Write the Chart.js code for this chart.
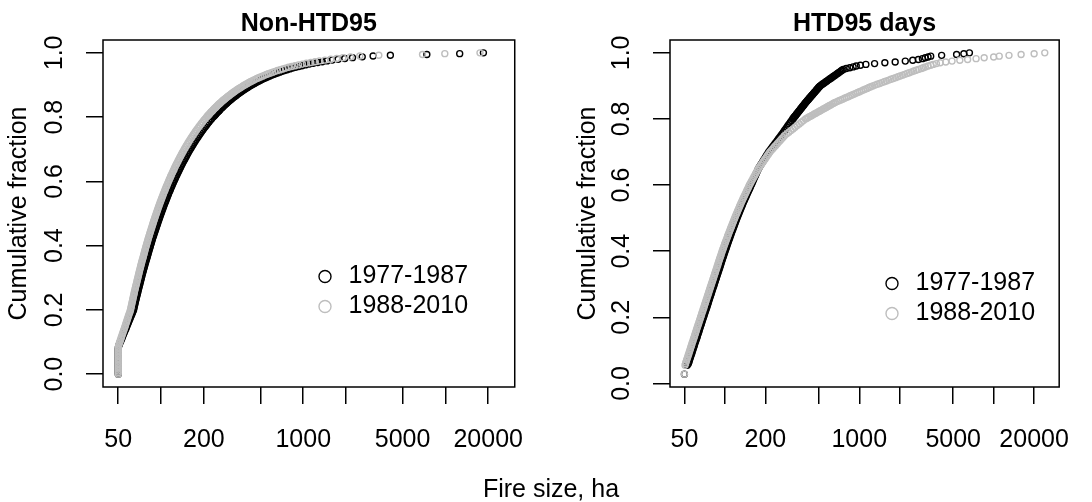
<!DOCTYPE html>
<html>
<head>
<meta charset="utf-8">
<script src="https://cdn.jsdelivr.net/npm/chart.js@4/dist/chart.umd.min.js"></script>
<style>
  html, body { margin: 0; padding: 0; background: #ffffff; }
  body { width: 1092px; height: 502px; position: relative; overflow: hidden; }
  .panel { position: absolute; top: 0; width: 546px; height: 502px; }
  #xTitle { position: absolute; top: 473px; left: 551px; transform: translateX(-50%);
            font: 25px/30px 'Liberation Sans', Arial, sans-serif; color: #000; white-space: nowrap; }
</style>
</head>
<body>
<div class="panel" style="left:0"><canvas id="leftChart" width="546" height="502"></canvas></div>
<div class="panel" style="left:546px"><canvas id="rightChart" width="546" height="502"></canvas></div>
<div id="xTitle">Fire size, ha</div>
<script>
// ---------------- data ----------------
const panelTitles = ['Non-HTD95', 'HTD95 days'];
const seriesNames = ['1977-1987', '1988-2010'];
const xAxisTitle = 'Fire size, ha';
const yAxisTitle = 'Cumulative fraction';
const xTickValues = [50, 100, 200, 500, 1000, 2000, 5000, 10000, 20000];
const xTickLabels = ['50', '', '200', '', '1000', '', '5000', '', '20000'];
const yTickValues = [0, 0.2, 0.4, 0.6, 0.8, 1.0];
const yTickLabels = ['0.0', '0.2', '0.4', '0.6', '0.8', '1.0'];

// ----- Non-HTD95 panel: cumulative fraction (y) and fire size in ha (x) -----
const leftFractions = [
  0, 0.005, 0.01, 0.015, 0.02, 0.025, 0.03, 0.035, 0.04, 0.045, 0.05, 0.055, 0.06, 0.065, 0.07, 0.075, 0.08, 0.085, 0.09, 0.095,
  0.10, 0.105, 0.11, 0.115, 0.12, 0.125, 0.13, 0.135, 0.14, 0.145, 0.15, 0.155, 0.16, 0.165, 0.17, 0.175, 0.18, 0.185, 0.19, 0.195,
  0.20, 0.205, 0.21, 0.215, 0.22, 0.225, 0.23, 0.235, 0.24, 0.245, 0.25, 0.255, 0.26, 0.265, 0.27, 0.275, 0.28, 0.285, 0.29, 0.295,
  0.30, 0.305, 0.31, 0.315, 0.32, 0.325, 0.33, 0.335, 0.34, 0.345, 0.35, 0.355, 0.36, 0.365, 0.37, 0.375, 0.38, 0.385, 0.39, 0.395,
  0.40, 0.405, 0.41, 0.415, 0.42, 0.425, 0.43, 0.435, 0.44, 0.445, 0.45, 0.455, 0.46, 0.465, 0.47, 0.475, 0.48, 0.485, 0.49, 0.495,
  0.50, 0.505, 0.51, 0.515, 0.52, 0.525, 0.53, 0.535, 0.54, 0.545, 0.55, 0.555, 0.56, 0.565, 0.57, 0.575, 0.58, 0.585, 0.59, 0.595,
  0.60, 0.605, 0.61, 0.615, 0.62, 0.625, 0.63, 0.635, 0.64, 0.645, 0.65, 0.655, 0.66, 0.665, 0.67, 0.675, 0.68, 0.685, 0.69, 0.695,
  0.70, 0.705, 0.71, 0.715, 0.72, 0.725, 0.73, 0.735, 0.74, 0.745, 0.75, 0.755, 0.76, 0.765, 0.77, 0.775, 0.78, 0.785, 0.79, 0.795,
  0.80,
  0.8025, 0.805, 0.8075, 0.81, 0.8125, 0.815, 0.8175, 0.82, 0.8225, 0.825, 0.8275, 0.83, 0.8325, 0.835, 0.8375, 0.84, 0.8425, 0.845, 0.8475, 0.85,
  0.8525, 0.855, 0.8575, 0.86, 0.8625, 0.865, 0.8675, 0.87, 0.8725, 0.875, 0.8775, 0.88, 0.8825, 0.885, 0.8875, 0.89, 0.8925, 0.895, 0.8975, 0.90,
  0.9025, 0.905, 0.9075, 0.91, 0.9125, 0.915, 0.9175, 0.92, 0.9225, 0.925, 0.9275, 0.93, 0.9325, 0.935, 0.9375, 0.94, 0.9425, 0.945, 0.9475, 0.95,
  0.9525, 0.955, 0.9575, 0.96, 0.9625, 0.965, 0.9675, 0.97, 0.9725, 0.975, 0.9775, 0.98, 0.9825, 0.985, 0.9875, 0.99, 0.9925, 0.995, 0.9975, 1.0
];
const nonHtdEarlySizes = [
  50, 50, 50, 50, 50, 50, 50, 50, 50, 50, 50, 50, 50, 50, 50, 50, 50, 50.2, 50.6, 51.1,
  51.7, 52.3, 52.9, 53.4, 54.0, 54.5, 55.1, 55.7, 56.4, 57.0, 57.6, 58.2, 58.8, 59.4, 60.1, 60.7, 61.4, 62.1, 62.8, 63.4,
  64.1, 64.4, 64.8, 65.2, 65.6, 66.0, 66.4, 66.8, 67.2, 67.7, 68.2, 68.6, 69.0, 69.4, 69.9, 70.4, 70.9, 71.3, 71.8, 72.3,
  72.8, 73.2, 73.7, 74.2, 74.8, 75.3, 75.9, 76.4, 76.9, 77.5, 78.1, 78.7, 79.3, 79.9, 80.5, 81.1, 81.7, 82.3, 83.0, 83.6,
  84.2, 84.9, 85.6, 86.2, 86.9, 87.6, 88.4, 89.1, 89.9, 90.7, 91.5, 92.3, 93.1, 93.9, 94.7, 95.5, 96.4, 97.3, 98.2, 99.1,
  100.0, 100.9, 101.9, 102.9, 103.9, 104.9, 105.9, 107.0, 108.1, 109.2, 110.3, 111.4, 112.6, 113.8, 115.1, 116.3, 117.6, 118.9, 120.3, 121.7,
  123.1, 124.5, 126.0, 127.5, 129.1, 130.7, 132.3, 134.0, 135.7, 137.4, 139.2, 141.1, 143.0, 145.0, 147.0, 149.1, 151.2, 153.4, 155.6, 158.0,
  160.4, 162.9, 165.5, 168.2, 170.9, 173.7, 176.6, 179.7, 182.8, 186.1, 189.5, 193.0, 196.6, 200.5, 204.5, 208.6, 212.8, 217.3, 222.0, 227.0,
  232.1,
  235, 238, 240.5, 243, 246, 249, 252.5, 256, 258.5, 261, 265, 269, 272.5, 276, 280, 284, 288, 292, 296.5, 301,
  305.5, 310, 315, 320, 326, 332, 337.5, 343, 349, 355, 361.5, 368, 375.5, 383, 390.5, 398, 406.5, 415, 424, 433,
  443.5, 454, 465, 476, 488.5, 501, 515, 529, 544.5, 560, 578, 596, 616, 636, 659.5, 683, 710.5, 738, 770.5, 803,
  841, 883, 929, 980, 1037, 1103, 1178, 1264, 1360, 1470, 1600, 1760, 1960, 2220, 2600, 3100, 4100, 7400, 12600, 18500
];
const nonHtdLateSizes = [
  50, 50, 50, 50, 50, 50, 50, 50, 50, 50, 50, 50, 50, 50, 50, 50, 50, 50.1, 50.4, 50.8,
  51.3, 51.7, 52.2, 52.6, 53.1, 53.5, 54.0, 54.5, 55.0, 55.5, 56.0, 56.4, 56.9, 57.4, 57.9, 58.4, 58.9, 59.4, 60.0, 60.5,
  61.0, 61.3, 61.7, 62.0, 62.4, 62.7, 63.1, 63.4, 63.8, 64.2, 64.6, 64.9, 65.3, 65.7, 66.1, 66.5, 67.0, 67.4, 67.8, 68.2,
  68.7, 69.1, 69.5, 70.0, 70.4, 70.9, 71.4, 71.8, 72.3, 72.8, 73.3, 73.8, 74.4, 74.9, 75.4, 76.0, 76.5, 77.0, 77.6, 78.1,
  78.7, 79.3, 79.9, 80.5, 81.1, 81.7, 82.4, 83.0, 83.7, 84.4, 85.1, 85.8, 86.5, 87.2, 87.9, 88.6, 89.4, 90.2, 91.0, 91.8,
  92.6, 93.4, 94.3, 95.1, 96.0, 96.9, 97.8, 98.7, 99.7, 100.7, 101.7, 102.7, 103.7, 104.8, 105.9, 107.0, 108.1, 109.3, 110.5, 111.7,
  112.9, 114.2, 115.5, 116.8, 118.2, 119.6, 121.0, 122.5, 124.0, 125.5, 127.1, 128.8, 130.5, 132.2, 134.0, 135.8, 137.7, 139.6, 141.6, 143.7,
  145.8, 148.0, 150.3, 152.7, 155.1, 157.6, 160.1, 162.8, 165.6, 168.5, 171.5, 174.6, 177.8, 181.2, 184.7, 188.3, 192.1, 196.1, 200.2, 204.6,
  209.1,
  211.5, 214, 216.5, 219, 221.5, 224, 227, 230, 232.5, 235, 238.5, 242, 245, 248, 251.5, 255, 258.5, 262, 266, 270,
  274, 278, 282.5, 287, 292, 297, 302, 307, 312.5, 318, 323.5, 329, 335.5, 342, 349, 356, 363.5, 371, 379, 387,
  396, 405, 415, 425, 436, 447, 459, 472, 486, 500, 516, 532, 550, 568, 589, 610, 634, 659, 688, 717,
  751, 788, 829, 875, 926, 985, 1052, 1129, 1210, 1300, 1420, 1560, 1720, 1900, 2150, 2500, 3400, 6900, 9900, 17500
];

// ----- HTD95 days panel -----
const rightFractions = [
  0.028,
  0.055, 0.06, 0.065, 0.07, 0.075, 0.08, 0.085, 0.09, 0.095,
  0.10, 0.105, 0.11, 0.115, 0.12, 0.125, 0.13, 0.135, 0.14, 0.145, 0.15, 0.155, 0.16, 0.165, 0.17, 0.175, 0.18, 0.185, 0.19, 0.195,
  0.20, 0.205, 0.21, 0.215, 0.22, 0.225, 0.23, 0.235, 0.24, 0.245, 0.25, 0.255, 0.26, 0.265, 0.27, 0.275, 0.28, 0.285, 0.29, 0.295,
  0.30, 0.305, 0.31, 0.315, 0.32, 0.325, 0.33, 0.335, 0.34, 0.345, 0.35, 0.355, 0.36, 0.365, 0.37, 0.375, 0.38, 0.385, 0.39, 0.395,
  0.40, 0.405, 0.41, 0.415, 0.42, 0.425, 0.43, 0.435, 0.44, 0.445, 0.45, 0.455, 0.46, 0.465, 0.47, 0.475, 0.48, 0.485, 0.49, 0.495,
  0.50, 0.505, 0.51, 0.515, 0.52, 0.525, 0.53, 0.535, 0.54, 0.545, 0.55, 0.555, 0.56, 0.565, 0.57, 0.575, 0.58, 0.585, 0.59, 0.595,
  0.60, 0.605, 0.61, 0.615, 0.62, 0.625, 0.63, 0.635, 0.64, 0.645, 0.65, 0.655, 0.66, 0.665, 0.67, 0.675, 0.68, 0.685, 0.69, 0.695,
  0.70, 0.705, 0.71, 0.715, 0.72, 0.725, 0.73, 0.735, 0.74, 0.745, 0.75, 0.755, 0.76, 0.765, 0.77, 0.775, 0.78, 0.785, 0.79, 0.795,
  0.80,
  0.8025, 0.805, 0.8075, 0.81, 0.8125, 0.815, 0.8175, 0.82, 0.8225, 0.825, 0.8275, 0.83, 0.8325, 0.835, 0.8375, 0.84, 0.8425, 0.845, 0.8475, 0.85,
  0.8525, 0.855, 0.8575, 0.86, 0.8625, 0.865, 0.8675, 0.87, 0.8725, 0.875, 0.8775, 0.88, 0.8825, 0.885, 0.8875, 0.89, 0.8925, 0.895, 0.8975, 0.90,
  0.9025, 0.905, 0.9075, 0.91, 0.9125, 0.915, 0.9175, 0.92, 0.9225, 0.925, 0.9275, 0.93, 0.9325, 0.935, 0.9375, 0.94, 0.9425, 0.945, 0.9475, 0.95,
  0.9525, 0.955, 0.9575, 0.96, 0.9625, 0.965, 0.9675, 0.97, 0.9725, 0.975, 0.9775, 0.98, 0.9825, 0.985, 0.9875, 0.99, 0.9925, 0.995, 0.9975, 1.0
];
const htdEarlySizes = [
  50,
  52.5, 53.6, 54.0, 54.5, 55.0, 55.5, 56.0, 56.6, 57.1,
  57.6, 58.1, 58.7, 59.2, 59.7, 60.3, 60.9, 61.5, 62.1, 62.6, 63.2, 63.8, 64.4, 64.9, 65.5, 66.1, 66.8, 67.4, 68.0, 68.6,
  69.3, 69.9, 70.6, 71.2, 71.9, 72.6, 73.3, 74.0, 74.7, 75.3, 76.0, 76.7, 77.4, 78.1, 78.9, 79.6, 80.3, 81.0, 81.8, 82.6,
  83.4, 84.1, 84.9, 85.7, 86.5, 87.3, 88.1, 88.9, 89.8, 90.6, 91.5, 92.3, 93.1, 94.0, 94.8, 95.7, 96.6, 97.5, 98.5, 99.4,
  100.3, 101.3, 102.3, 103.3, 104.3, 105.3, 106.4, 107.5, 108.6, 109.6, 110.7, 111.9, 113.1, 114.3, 115.5, 116.7, 118.0, 119.2, 120.4, 121.7,
  123.0, 124.4, 125.9, 127.3, 128.8, 130.3, 131.8, 133.3, 134.9, 136.5, 138.1, 139.9, 141.7, 143.5, 145.3, 147.2, 149.1, 151.0, 153.0, 155.0,
  157.0, 159.0, 161.0, 163.0, 165.0, 167.1, 169.2, 171.3, 173.5, 175.6, 177.8, 181.0, 184.2, 187.5, 190.8, 194.2, 197.6, 201.1, 204.7, 208.3,
  212.0, 216.4, 221.0, 225.8, 230.6, 235.6, 240.6, 245.8, 251.0, 256.4, 261.8, 267.1, 272.5, 278.0, 283.7, 289.5, 295.3, 301.3, 307.4, 313.6,
  319.9,
  323.5, 327, 331, 335, 338.5, 342, 346, 350, 354, 358, 362, 366, 370, 374, 378.5, 383, 387, 391, 395.5, 400,
  405, 410, 415, 420, 425, 430, 435.5, 441, 446.5, 452, 457.5, 463, 469, 475, 480.5, 486, 492, 498, 504.5, 511,
  521, 531, 542, 553, 564, 575, 587, 599, 611, 623, 636, 649, 662, 675, 688.5, 702, 716.5, 731, 745.5, 760,
  800, 850, 900, 950, 1020, 1120, 1300, 1550, 1850, 2200, 2500, 2750, 2950, 3100, 3250, 3400, 4100, 5300, 6000, 6600
];
const htdLateSizes = [
  50,
  50.5, 51.0, 51.4, 51.9, 52.4, 52.9, 53.4, 53.9, 54.4,
  54.9, 55.4, 55.9, 56.4, 56.9, 57.4, 58.0, 58.5, 59.1, 59.6, 60.2, 60.7, 61.3, 61.8, 62.4, 63.0, 63.6, 64.2, 64.8, 65.4,
  66.0, 66.6, 67.2, 67.8, 68.5, 69.1, 69.8, 70.4, 71.1, 71.7, 72.4, 73.0, 73.7, 74.4, 75.1, 75.8, 76.5, 77.2, 77.9, 78.6,
  79.4, 80.1, 80.9, 81.6, 82.4, 83.1, 83.9, 84.7, 85.5, 86.3, 87.1, 87.9, 88.7, 89.5, 90.3, 91.1, 92.0, 92.9, 93.8, 94.6,
  95.5, 96.5, 97.5, 98.5, 99.5, 100.5, 101.6, 102.7, 103.8, 104.8, 105.9, 107.1, 108.3, 109.5, 110.7, 111.9, 113.2, 114.4, 115.7, 117.0,
  118.3, 119.7, 121.2, 122.6, 124.1, 125.6, 127.1, 128.6, 130.2, 131.8, 133.4, 135.2, 137.0, 138.8, 140.7, 142.6, 144.5, 146.4, 148.4, 150.4,
  152.4, 154.8, 157.2, 159.6, 162.1, 164.6, 167.2, 169.8, 172.5, 175.1, 177.8, 181.3, 184.9, 188.6, 192.3, 196.1, 200.0, 204.0, 208.0, 212.1,
  216.3, 221.8, 227.5, 233.3, 239.3, 245.5, 251.8, 258.3, 264.9, 271.7, 278.6, 288.7, 299.2, 310.1, 321.4, 333.0, 345.1, 357.7, 370.7, 384.2,
  398.1,
  408.5, 419, 430, 441, 452, 463, 475.5, 488, 500.5, 513, 526.5, 540, 554, 568, 582.5, 597, 612.5, 628, 644.5, 661,
  683, 705, 728.5, 752, 777, 802, 828.5, 855, 883.5, 912, 942.5, 973, 1005.5, 1038, 1072.5, 1107, 1143.5, 1180, 1219.5, 1259,
  1310, 1361, 1416.5, 1472, 1532, 1592, 1657, 1722, 1792, 1862, 1938, 2014, 2096, 2178, 2266.5, 2355, 2451, 2547, 2650.5, 2754,
  2900, 3000, 3100, 3250, 3400, 3550, 3750, 4000, 4400, 4900, 5600, 6400, 7400, 8500, 10000, 11000, 13000, 16000, 20000, 24000
];

// ---------------- styling / layout ----------------
const FONT = "'Liberation Sans', Arial, sans-serif";
const FONT_SIZE = 25;
const EARLY_COLOR = '#000000';
const LATE_COLOR = '#bebebe';
const CANVAS_W = 546, CANVAS_H = 502;
const PLOT_BOTTOM = 387;

Chart.defaults.font.family = FONT;
Chart.defaults.font.size = FONT_SIZE;
Chart.defaults.color = '#000';

// shared x limits (data range + 4% on the log axis, like R)
const allSizes = [].concat(nonHtdEarlySizes, nonHtdLateSizes, htdEarlySizes, htdLateSizes);
const lgMin = Math.log10(Math.min(...allSizes));
const lgMax = Math.log10(Math.max(...allSizes));
const lgPad = 0.04 * (lgMax - lgMin);
const xAxisMin = Math.pow(10, lgMin - lgPad);
const xAxisMax = Math.pow(10, lgMax + lgPad);

function toPoints(sizes, fractions) {
  return sizes.map((s, i) => ({ x: s, y: fractions[i] }));
}

const plotBox = {
  id: 'plotBox',
  afterDatasetsDraw(chart) {
    const { ctx, chartArea: a } = chart;
    ctx.save();
    ctx.strokeStyle = '#000';
    ctx.lineWidth = 1.5;
    ctx.strokeRect(a.left, a.top, a.right - a.left, a.bottom - a.top);
    ctx.restore();
  }
};

const legendPlace = {
  id: 'legendPlace',
  afterLayout(chart, args, opts) {
    const lg = chart.legend;
    if (!lg) return;
    lg.left = chart.chartArea.left + opts.dx;
    lg.top = chart.chartArea.top + opts.dy;
  }
};

function makePanel(canvasId, title, fractions, earlySizes, lateSizes, L) {
  const fMin = Math.min(...fractions), fMax = Math.max(...fractions);
  const fPad = 0.04 * (fMax - fMin);
  const pointStyle = { pointStyle: 'circle', pointRadius: 3, pointHoverRadius: 3, pointBorderWidth: 1.4,
                       pointBackgroundColor: 'rgba(0,0,0,0)', backgroundColor: 'rgba(0,0,0,0)', showLine: false };
  return new Chart(document.getElementById(canvasId), {
    type: 'scatter',
    data: {
      datasets: [
        Object.assign({ label: seriesNames[0], data: toPoints(earlySizes, fractions),
          borderColor: EARLY_COLOR, pointBorderColor: EARLY_COLOR, order: 1 }, pointStyle),
        Object.assign({ label: seriesNames[1], data: toPoints(lateSizes, fractions),
          borderColor: LATE_COLOR, pointBorderColor: LATE_COLOR, order: 0 }, pointStyle)
      ]
    },
    options: {
      responsive: false,
      animation: false,
      devicePixelRatio: 1,
      events: [],
      layout: { padding: { left: 0, right: CANVAS_W - L.boxRight, top: 0, bottom: 0 } },
      plugins: {
        title: { display: true, text: title, color: '#000', fullSize: false,
                 font: { family: FONT, size: FONT_SIZE, weight: 'bold' }, padding: { top: 9, bottom: 1 } },
        legend: { display: true, position: 'chartArea', align: 'start',
                  labels: { usePointStyle: true, boxWidth: 22, boxHeight: 8.5, padding: 5, color: '#000',
                            font: { family: FONT, size: FONT_SIZE },
                            sort: (a, b) => a.datasetIndex - b.datasetIndex } },
        tooltip: { enabled: false },
        legendPlace: { dx: L.legendDx, dy: L.legendDy }
      },
      scales: {
        x: {
          type: 'logarithmic', position: 'bottom', bounds: 'data', min: xAxisMin, max: xAxisMax,
          afterBuildTicks: (s) => { s.ticks = xTickValues.map(v => ({ value: v })); },
          afterFit: (s) => { s.height = CANVAS_H - PLOT_BOTTOM; },
          ticks: { autoSkip: false, minRotation: 0, maxRotation: 0, padding: 21, color: '#000',
                   font: { family: FONT, size: FONT_SIZE },
                   callback: (v, i) => xTickLabels[i] },
          grid: { drawOnChartArea: false, drawTicks: true, tickLength: 17, color: '#000', lineWidth: 1.5 },
          border: { display: false }
        },
        y: {
          type: 'linear', position: 'left', bounds: 'data', min: fMin - fPad, max: fMax + fPad,
          afterBuildTicks: (s) => { s.ticks = yTickValues.map(v => ({ value: v })); },
          afterFit: (s) => { s.width = L.boxLeft; },
          ticks: { minRotation: 90, maxRotation: 90, crossAlign: 'center', padding: 14, color: '#000',
                   font: { family: FONT, size: FONT_SIZE },
                   callback: (v, i) => yTickLabels[i] },
          grid: { drawOnChartArea: false, drawTicks: true, tickLength: 17, color: '#000', lineWidth: 1.5 },
          border: { display: false },
          title: { display: true, text: yAxisTitle, color: '#000',
                   font: { family: FONT, size: FONT_SIZE }, padding: { top: L.yTitlePad, bottom: 0 } }
        }
      }
    },
    plugins: [plotBox, legendPlace]
  });
}

makePanel('leftChart', panelTitles[0], leftFractions, nonHtdEarlySizes, nonHtdLateSizes,
  { boxLeft: 103, boxRight: 516, yTitlePad: 4, legendDx: 206, legendDy: 219 });
makePanel('rightChart', panelTitles[1], rightFractions, htdEarlySizes, htdLateSizes,
  { boxLeft: 124, boxRight: 537, yTitlePad: 27, legendDx: 206, legendDy: 226 });
document.getElementById('xTitle').textContent = xAxisTitle;
</script>
</body>
</html>
